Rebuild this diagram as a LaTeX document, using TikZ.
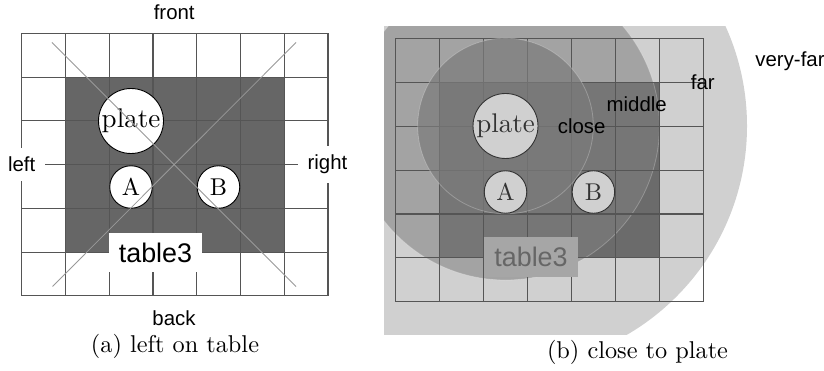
\documentclass[tikz,border=0pt]{standalone}
\usepackage{fontspec}
\setmainfont{lmroman10}[Extension=.otf, UprightFont=*-regular, BoldFont=*-bold, ItalicFont=*-italic]
\newfontfamily\hv{Liberation Sans}
\definecolor{gridc}{HTML}{555555}
\definecolor{darkA}{HTML}{666666}
\definecolor{diagc}{HTML}{999999}
\definecolor{lightB}{HTML}{D0D0D0}
\definecolor{medB}{HTML}{A3A3A3}
\definecolor{darkB}{HTML}{6B6B6B}
\definecolor{darkBm}{HTML}{767676}
\definecolor{innerB}{HTML}{7B7B7B}
\definecolor{objB}{HTML}{333333}
\definecolor{tabB}{HTML}{A6A6A6}
\definecolor{tabtxtB}{HTML}{666666}
\tikzset{
  gridline/.style={draw=gridc, line width=1.1pt},
  lbl/.style={font=\hv\fontsize{20.4}{24}\selectfont, inner sep=0pt},
  sidelbl/.style={font=\hv\fontsize{20.4}{24}\selectfont, inner sep=9.3pt, fill=white},
  tablelbl/.style={font=\hv\fontsize{26.9}{32}\selectfont, inner sep=10pt},
  bigobj/.style={circle, draw=black, fill=white, line width=0.9pt, inner sep=0pt, minimum size=65pt, font=\fontsize{27}{32}\selectfont},
  smallobj/.style={circle, draw=black, fill=white, line width=0.9pt, inner sep=0pt, minimum size=42.5pt, font=\fontsize{24.3}{29}\selectfont},
  caption/.style={font=\fontsize{24.3}{29}\selectfont, inner sep=0pt, anchor=base},
}
\begin{document}
\begin{tikzpicture}[x=1pt, y=-1pt]
\useasboundingbox (0,0) rectangle (824,371);
\fill[white] (0,0) rectangle (824,371);
% ---------------- panel (a) ----------------
\def\ax{21.7}\def\ay{33.3}\def\ac{43.76}
\fill[darkA] ({\ax+\ac},{\ay+\ac}) rectangle ({\ax+6*\ac},{\ay+5*\ac});
\foreach \i in {0,...,7} \draw[gridline] ({\ax+\i*\ac},\ay) -- ({\ax+\i*\ac},{\ay+6*\ac});
\foreach \j in {0,...,6} \draw[gridline] (\ax,{\ay+\j*\ac}) -- ({\ax+7*\ac},{\ay+\j*\ac});
\node[bigobj] (plateA) at (131,121) {plate};
\node[smallobj] (aA) at (131,187) {A};
\node[smallobj] (bA) at (218.5,187) {B};
\coordinate (d1s) at (52,42.5); \coordinate (d1e) at (296,286.5);
\coordinate (d2s) at (296,42.5); \coordinate (d2e) at (52.5,286.5);
\draw[diagc, line width=0.8pt] (d1s) -- (d1e);
\draw[diagc, line width=0.8pt] (d2s) -- (d2e);
\node[tablelbl, fill=white] (tabA) at (155.5,252.5) {table3};
\node[lbl, anchor=base] (front) at (174.2,20) {front};
\node[lbl, anchor=base] (back) at (174,325) {back};
\node[sidelbl] (left) at (21.7,164.5) {left};
\node[sidelbl] (right) at (327.5,164.5) {right};
\node[caption] (capA) at (175,352) {(a) left on table};
% ---------------- panel (b) ----------------
\def\bx{395.7}\def\by{38.3}\def\bc{43.92}
\coordinate (P) at (505.5,126);
\begin{scope}
  \clip (384,26.7) rectangle (770,334.3);
  \fill[lightB] (P) circle[radius=241.5pt];
  \fill[medB] (P) circle[radius=154pt];
  \fill[darkB] ({\bx+\bc},{\by+\bc}) rectangle ({\bx+6*\bc},{\by+5*\bc});
  \begin{scope}
    \clip (P) circle[radius=154pt];
    \fill[darkBm] ({\bx+\bc},{\by+\bc}) rectangle ({\bx+6*\bc},{\by+5*\bc});
  \end{scope}
  \draw[white, opacity=0.25, line width=0.8pt] (P) circle[radius=154pt];
\end{scope}
\foreach \i in {0,...,7} \draw[gridline] ({\bx+\i*\bc},\by) -- ({\bx+\i*\bc},{\by+6*\bc});
\foreach \j in {0,...,6} \draw[gridline] (\bx,{\by+\j*\bc}) -- ({\bx+7*\bc},{\by+\j*\bc});
\fill[innerB, opacity=0.72] (P) circle[radius=87.8pt];
\draw[white, opacity=0.25, line width=0.8pt] (P) circle[radius=87.8pt];
\node[bigobj, fill=lightB, draw=objB, text=objB] (plateB) at (P) {plate};
\node[smallobj, fill=lightB, draw=objB, text=objB] (aB) at (505.5,192) {A};
\node[smallobj, fill=lightB, draw=objB, text=objB] (bB) at (593.4,192) {B};
\node[tablelbl, fill=tabB, text=tabtxtB] (tabB) at (531,257.2) {table3};
\node[lbl, anchor=base] (close) at (581.7,133.3) {close};
\node[lbl, anchor=base] (middle) at (636.7,111.7) {middle};
\node[lbl, anchor=base] (far) at (702.8,90) {far};
\node[lbl, anchor=base] (veryfar) at (790,66.7) {very-far};
\node[caption] (capB) at (637.5,358.3) {(b) close to plate};
\end{tikzpicture}
\end{document}
